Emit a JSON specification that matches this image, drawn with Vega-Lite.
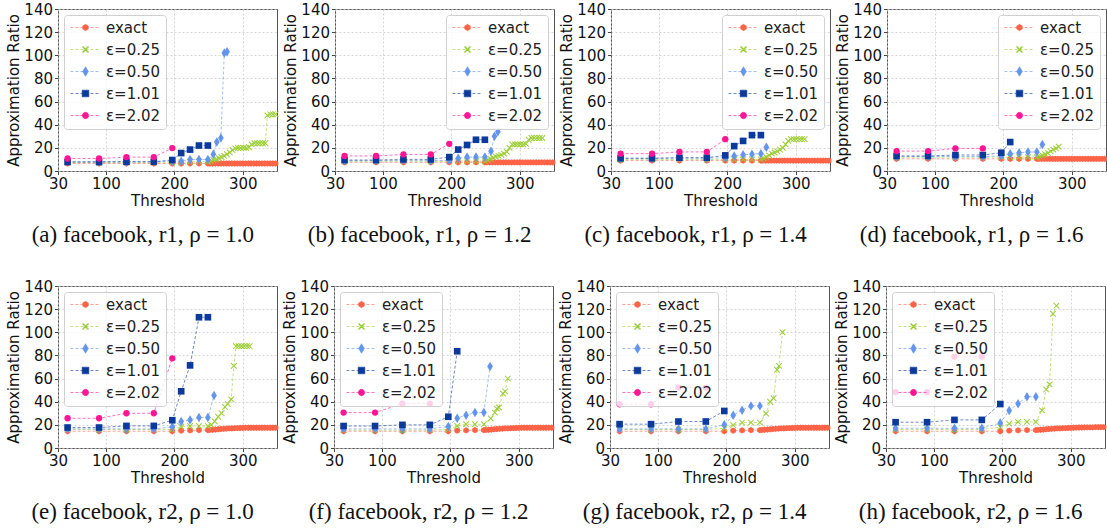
{
"$schema":"https://vega.github.io/schema/vega-lite/v6.json",
"padding":{"left":6,"top":1,"right":0,"bottom":0},
"data":{"values":[
{"p":"a","s":"exact","x":44,"y":6.5},{"p":"a","s":"exact","x":90,"y":6.5},{"p":"a","s":"exact","x":130,"y":6.5},{"p":"a","s":"exact","x":170,"y":6.5},{"p":"a","s":"exact","x":197,"y":6.5},{"p":"a","s":"exact","x":210,"y":6.5},{"p":"a","s":"exact","x":223,"y":6.5},{"p":"a","s":"exact","x":236,"y":6.5},{"p":"a","s":"exact","x":249,"y":6.5},{"p":"a","s":"exact","x":252,"y":6.5},{"p":"a","s":"exact","x":256,"y":6.5},{"p":"a","s":"exact","x":260,"y":6.5},{"p":"a","s":"exact","x":264,"y":6.5},{"p":"a","s":"exact","x":268,"y":6.5},{"p":"a","s":"exact","x":272,"y":6.5},{"p":"a","s":"exact","x":276,"y":6.5},{"p":"a","s":"exact","x":280,"y":6.5},{"p":"a","s":"exact","x":284,"y":6.5},{"p":"a","s":"exact","x":288,"y":6.5},{"p":"a","s":"exact","x":292,"y":6.5},{"p":"a","s":"exact","x":296,"y":6.5},{"p":"a","s":"exact","x":300,"y":6.5},{"p":"a","s":"exact","x":304,"y":6.5},{"p":"a","s":"exact","x":308,"y":6.5},{"p":"a","s":"exact","x":312,"y":6.5},{"p":"a","s":"exact","x":316,"y":6.5},{"p":"a","s":"exact","x":320,"y":6.5},{"p":"a","s":"exact","x":324,"y":6.5},{"p":"a","s":"exact","x":328,"y":6.5},{"p":"a","s":"exact","x":332,"y":6.5},{"p":"a","s":"exact","x":336,"y":6.5},{"p":"a","s":"exact","x":340,"y":6.5},{"p":"a","s":"exact","x":344,"y":6.5},{"p":"a","s":"exact","x":348,"y":6.5},
{"p":"a","s":"ε=0.25","x":44,"y":7.5},{"p":"a","s":"ε=0.25","x":90,"y":7.5},{"p":"a","s":"ε=0.25","x":130,"y":7.5},{"p":"a","s":"ε=0.25","x":170,"y":7.5},{"p":"a","s":"ε=0.25","x":197,"y":7.5},{"p":"a","s":"ε=0.25","x":210,"y":7.5},{"p":"a","s":"ε=0.25","x":223,"y":8},{"p":"a","s":"ε=0.25","x":236,"y":8},{"p":"a","s":"ε=0.25","x":249,"y":8},{"p":"a","s":"ε=0.25","x":253,"y":8.5},{"p":"a","s":"ε=0.25","x":257,"y":9.5},{"p":"a","s":"ε=0.25","x":261,"y":10},{"p":"a","s":"ε=0.25","x":265,"y":11},{"p":"a","s":"ε=0.25","x":269,"y":12},{"p":"a","s":"ε=0.25","x":273,"y":13},{"p":"a","s":"ε=0.25","x":277,"y":14.5},{"p":"a","s":"ε=0.25","x":281,"y":16},{"p":"a","s":"ε=0.25","x":285,"y":18},{"p":"a","s":"ε=0.25","x":289,"y":19.5},{"p":"a","s":"ε=0.25","x":293,"y":20},{"p":"a","s":"ε=0.25","x":297,"y":20},{"p":"a","s":"ε=0.25","x":301,"y":20},{"p":"a","s":"ε=0.25","x":305,"y":20},{"p":"a","s":"ε=0.25","x":309,"y":20.5},{"p":"a","s":"ε=0.25","x":313,"y":23},{"p":"a","s":"ε=0.25","x":317,"y":24},{"p":"a","s":"ε=0.25","x":321,"y":24},{"p":"a","s":"ε=0.25","x":325,"y":24},{"p":"a","s":"ε=0.25","x":329,"y":24},{"p":"a","s":"ε=0.25","x":333,"y":24},{"p":"a","s":"ε=0.25","x":336,"y":48},{"p":"a","s":"ε=0.25","x":340,"y":49},{"p":"a","s":"ε=0.25","x":344,"y":49},{"p":"a","s":"ε=0.25","x":348,"y":49},
{"p":"a","s":"ε=0.50","x":44,"y":8},{"p":"a","s":"ε=0.50","x":90,"y":8},{"p":"a","s":"ε=0.50","x":130,"y":8},{"p":"a","s":"ε=0.50","x":170,"y":8},{"p":"a","s":"ε=0.50","x":197,"y":8.5},{"p":"a","s":"ε=0.50","x":210,"y":8.5},{"p":"a","s":"ε=0.50","x":223,"y":10},{"p":"a","s":"ε=0.50","x":236,"y":10},{"p":"a","s":"ε=0.50","x":249,"y":10},{"p":"a","s":"ε=0.50","x":257,"y":14.5},{"p":"a","s":"ε=0.50","x":262,"y":25},{"p":"a","s":"ε=0.50","x":268,"y":28.5},{"p":"a","s":"ε=0.50","x":273,"y":102},{"p":"a","s":"ε=0.50","x":277,"y":103},
{"p":"a","s":"ε=1.01","x":44,"y":7.8},{"p":"a","s":"ε=1.01","x":90,"y":7.8},{"p":"a","s":"ε=1.01","x":130,"y":8},{"p":"a","s":"ε=1.01","x":170,"y":8},{"p":"a","s":"ε=1.01","x":197,"y":9.5},{"p":"a","s":"ε=1.01","x":210,"y":15.5},{"p":"a","s":"ε=1.01","x":223,"y":18.5},{"p":"a","s":"ε=1.01","x":236,"y":22},{"p":"a","s":"ε=1.01","x":249,"y":22},
{"p":"a","s":"ε=2.02","x":44,"y":10.8},{"p":"a","s":"ε=2.02","x":90,"y":10.8},{"p":"a","s":"ε=2.02","x":130,"y":12},{"p":"a","s":"ε=2.02","x":170,"y":12},{"p":"a","s":"ε=2.02","x":197,"y":19.8},

{"p":"b","s":"exact","x":44,"y":7.5},{"p":"b","s":"exact","x":90,"y":7.5},{"p":"b","s":"exact","x":130,"y":7.5},{"p":"b","s":"exact","x":170,"y":7.5},{"p":"b","s":"exact","x":197,"y":7.5},{"p":"b","s":"exact","x":210,"y":7.5},{"p":"b","s":"exact","x":223,"y":7.5},{"p":"b","s":"exact","x":236,"y":7.5},{"p":"b","s":"exact","x":249,"y":7.5},{"p":"b","s":"exact","x":252,"y":7.5},{"p":"b","s":"exact","x":256,"y":7.5},{"p":"b","s":"exact","x":260,"y":7.5},{"p":"b","s":"exact","x":264,"y":7.5},{"p":"b","s":"exact","x":268,"y":7.5},{"p":"b","s":"exact","x":272,"y":7.5},{"p":"b","s":"exact","x":276,"y":7.5},{"p":"b","s":"exact","x":280,"y":7.5},{"p":"b","s":"exact","x":284,"y":7.5},{"p":"b","s":"exact","x":288,"y":7.5},{"p":"b","s":"exact","x":292,"y":7.5},{"p":"b","s":"exact","x":296,"y":7.5},{"p":"b","s":"exact","x":300,"y":7.5},{"p":"b","s":"exact","x":304,"y":7.5},{"p":"b","s":"exact","x":308,"y":7.5},{"p":"b","s":"exact","x":312,"y":7.5},{"p":"b","s":"exact","x":316,"y":7.5},{"p":"b","s":"exact","x":320,"y":7.5},{"p":"b","s":"exact","x":324,"y":7.5},{"p":"b","s":"exact","x":328,"y":7.5},{"p":"b","s":"exact","x":332,"y":7.5},{"p":"b","s":"exact","x":336,"y":7.5},{"p":"b","s":"exact","x":340,"y":7.5},{"p":"b","s":"exact","x":344,"y":7.5},{"p":"b","s":"exact","x":348,"y":7.5},
{"p":"b","s":"ε=0.25","x":44,"y":8.5},{"p":"b","s":"ε=0.25","x":90,"y":8.5},{"p":"b","s":"ε=0.25","x":130,"y":8.5},{"p":"b","s":"ε=0.25","x":170,"y":8.5},{"p":"b","s":"ε=0.25","x":197,"y":8.5},{"p":"b","s":"ε=0.25","x":210,"y":8.5},{"p":"b","s":"ε=0.25","x":223,"y":8.5},{"p":"b","s":"ε=0.25","x":236,"y":8.5},{"p":"b","s":"ε=0.25","x":249,"y":8.5},{"p":"b","s":"ε=0.25","x":253,"y":9.5},{"p":"b","s":"ε=0.25","x":257,"y":10.5},{"p":"b","s":"ε=0.25","x":261,"y":11.5},{"p":"b","s":"ε=0.25","x":265,"y":12.5},{"p":"b","s":"ε=0.25","x":269,"y":13},{"p":"b","s":"ε=0.25","x":273,"y":14},{"p":"b","s":"ε=0.25","x":277,"y":15},{"p":"b","s":"ε=0.25","x":281,"y":16.5},{"p":"b","s":"ε=0.25","x":285,"y":20},{"p":"b","s":"ε=0.25","x":289,"y":23},{"p":"b","s":"ε=0.25","x":293,"y":23},{"p":"b","s":"ε=0.25","x":297,"y":23},{"p":"b","s":"ε=0.25","x":301,"y":23},{"p":"b","s":"ε=0.25","x":305,"y":23},{"p":"b","s":"ε=0.25","x":309,"y":23.5},{"p":"b","s":"ε=0.25","x":313,"y":27},{"p":"b","s":"ε=0.25","x":317,"y":28.5},{"p":"b","s":"ε=0.25","x":321,"y":28.5},{"p":"b","s":"ε=0.25","x":325,"y":28.5},{"p":"b","s":"ε=0.25","x":329,"y":28.5},{"p":"b","s":"ε=0.25","x":333,"y":28.5},
{"p":"b","s":"ε=0.50","x":44,"y":9},{"p":"b","s":"ε=0.50","x":90,"y":9},{"p":"b","s":"ε=0.50","x":130,"y":9},{"p":"b","s":"ε=0.50","x":170,"y":9},{"p":"b","s":"ε=0.50","x":197,"y":9},{"p":"b","s":"ε=0.50","x":210,"y":11},{"p":"b","s":"ε=0.50","x":223,"y":12},{"p":"b","s":"ε=0.50","x":236,"y":12},{"p":"b","s":"ε=0.50","x":249,"y":12},{"p":"b","s":"ε=0.50","x":258,"y":17},{"p":"b","s":"ε=0.50","x":263,"y":30},{"p":"b","s":"ε=0.50","x":268,"y":34},
{"p":"b","s":"ε=1.01","x":44,"y":9.5},{"p":"b","s":"ε=1.01","x":90,"y":9.5},{"p":"b","s":"ε=1.01","x":130,"y":10},{"p":"b","s":"ε=1.01","x":170,"y":10},{"p":"b","s":"ε=1.01","x":197,"y":12},{"p":"b","s":"ε=1.01","x":210,"y":18.5},{"p":"b","s":"ε=1.01","x":223,"y":22.5},{"p":"b","s":"ε=1.01","x":236,"y":27},{"p":"b","s":"ε=1.01","x":249,"y":27},
{"p":"b","s":"ε=2.02","x":44,"y":13},{"p":"b","s":"ε=2.02","x":90,"y":13},{"p":"b","s":"ε=2.02","x":130,"y":14.3},{"p":"b","s":"ε=2.02","x":170,"y":14.3},{"p":"b","s":"ε=2.02","x":197,"y":23.5},

{"p":"c","s":"exact","x":44,"y":9},{"p":"c","s":"exact","x":90,"y":9},{"p":"c","s":"exact","x":130,"y":9},{"p":"c","s":"exact","x":170,"y":9},{"p":"c","s":"exact","x":197,"y":9},{"p":"c","s":"exact","x":210,"y":9},{"p":"c","s":"exact","x":223,"y":9},{"p":"c","s":"exact","x":236,"y":9},{"p":"c","s":"exact","x":249,"y":9},{"p":"c","s":"exact","x":252,"y":9},{"p":"c","s":"exact","x":256,"y":9},{"p":"c","s":"exact","x":260,"y":9},{"p":"c","s":"exact","x":264,"y":9},{"p":"c","s":"exact","x":268,"y":9},{"p":"c","s":"exact","x":272,"y":9},{"p":"c","s":"exact","x":276,"y":9},{"p":"c","s":"exact","x":280,"y":9},{"p":"c","s":"exact","x":284,"y":9},{"p":"c","s":"exact","x":288,"y":9},{"p":"c","s":"exact","x":292,"y":9},{"p":"c","s":"exact","x":296,"y":9},{"p":"c","s":"exact","x":300,"y":9},{"p":"c","s":"exact","x":304,"y":9},{"p":"c","s":"exact","x":308,"y":9},{"p":"c","s":"exact","x":312,"y":9},{"p":"c","s":"exact","x":316,"y":9},{"p":"c","s":"exact","x":320,"y":9},{"p":"c","s":"exact","x":324,"y":9},{"p":"c","s":"exact","x":328,"y":9},{"p":"c","s":"exact","x":332,"y":9},{"p":"c","s":"exact","x":336,"y":9},{"p":"c","s":"exact","x":340,"y":9},{"p":"c","s":"exact","x":344,"y":9},{"p":"c","s":"exact","x":348,"y":9},
{"p":"c","s":"ε=0.25","x":44,"y":10},{"p":"c","s":"ε=0.25","x":90,"y":10},{"p":"c","s":"ε=0.25","x":130,"y":10},{"p":"c","s":"ε=0.25","x":170,"y":10},{"p":"c","s":"ε=0.25","x":197,"y":10},{"p":"c","s":"ε=0.25","x":210,"y":10},{"p":"c","s":"ε=0.25","x":223,"y":10},{"p":"c","s":"ε=0.25","x":236,"y":10},{"p":"c","s":"ε=0.25","x":249,"y":10},{"p":"c","s":"ε=0.25","x":253,"y":11},{"p":"c","s":"ε=0.25","x":257,"y":12},{"p":"c","s":"ε=0.25","x":261,"y":13.5},{"p":"c","s":"ε=0.25","x":265,"y":15},{"p":"c","s":"ε=0.25","x":269,"y":16},{"p":"c","s":"ε=0.25","x":273,"y":17},{"p":"c","s":"ε=0.25","x":277,"y":18.5},{"p":"c","s":"ε=0.25","x":281,"y":20},{"p":"c","s":"ε=0.25","x":285,"y":23},{"p":"c","s":"ε=0.25","x":289,"y":26},{"p":"c","s":"ε=0.25","x":293,"y":27.5},{"p":"c","s":"ε=0.25","x":297,"y":27.5},{"p":"c","s":"ε=0.25","x":301,"y":27.5},{"p":"c","s":"ε=0.25","x":305,"y":27.5},{"p":"c","s":"ε=0.25","x":309,"y":27.5},{"p":"c","s":"ε=0.25","x":313,"y":27.5},
{"p":"c","s":"ε=0.50","x":44,"y":11},{"p":"c","s":"ε=0.50","x":90,"y":11},{"p":"c","s":"ε=0.50","x":130,"y":11},{"p":"c","s":"ε=0.50","x":170,"y":11},{"p":"c","s":"ε=0.50","x":197,"y":11.5},{"p":"c","s":"ε=0.50","x":210,"y":13},{"p":"c","s":"ε=0.50","x":223,"y":14},{"p":"c","s":"ε=0.50","x":236,"y":14.5},{"p":"c","s":"ε=0.50","x":249,"y":15},{"p":"c","s":"ε=0.50","x":257,"y":20.5},
{"p":"c","s":"ε=1.01","x":44,"y":11},{"p":"c","s":"ε=1.01","x":90,"y":11},{"p":"c","s":"ε=1.01","x":130,"y":11.5},{"p":"c","s":"ε=1.01","x":170,"y":11.5},{"p":"c","s":"ε=1.01","x":197,"y":13.5},{"p":"c","s":"ε=1.01","x":210,"y":21.5},{"p":"c","s":"ε=1.01","x":223,"y":26},{"p":"c","s":"ε=1.01","x":236,"y":31},{"p":"c","s":"ε=1.01","x":249,"y":31},
{"p":"c","s":"ε=2.02","x":44,"y":15},{"p":"c","s":"ε=2.02","x":90,"y":15},{"p":"c","s":"ε=2.02","x":130,"y":16.5},{"p":"c","s":"ε=2.02","x":170,"y":16.5},{"p":"c","s":"ε=2.02","x":197,"y":27.5},

{"p":"d","s":"exact","x":44,"y":10.5},{"p":"d","s":"exact","x":90,"y":10.5},{"p":"d","s":"exact","x":130,"y":10.5},{"p":"d","s":"exact","x":170,"y":10.5},{"p":"d","s":"exact","x":197,"y":10.5},{"p":"d","s":"exact","x":210,"y":10.5},{"p":"d","s":"exact","x":223,"y":10.5},{"p":"d","s":"exact","x":236,"y":10.5},{"p":"d","s":"exact","x":249,"y":10.5},{"p":"d","s":"exact","x":252,"y":10.5},{"p":"d","s":"exact","x":256,"y":10.5},{"p":"d","s":"exact","x":260,"y":10.5},{"p":"d","s":"exact","x":264,"y":10.5},{"p":"d","s":"exact","x":268,"y":10.5},{"p":"d","s":"exact","x":272,"y":10.5},{"p":"d","s":"exact","x":276,"y":10.5},{"p":"d","s":"exact","x":280,"y":10.5},{"p":"d","s":"exact","x":284,"y":10.5},{"p":"d","s":"exact","x":288,"y":10.5},{"p":"d","s":"exact","x":292,"y":10.5},{"p":"d","s":"exact","x":296,"y":10.5},{"p":"d","s":"exact","x":300,"y":10.5},{"p":"d","s":"exact","x":304,"y":10.5},{"p":"d","s":"exact","x":308,"y":10.5},{"p":"d","s":"exact","x":312,"y":10.5},{"p":"d","s":"exact","x":316,"y":10.5},{"p":"d","s":"exact","x":320,"y":10.5},{"p":"d","s":"exact","x":324,"y":10.5},{"p":"d","s":"exact","x":328,"y":10.5},{"p":"d","s":"exact","x":332,"y":10.5},{"p":"d","s":"exact","x":336,"y":10.5},{"p":"d","s":"exact","x":340,"y":10.5},{"p":"d","s":"exact","x":344,"y":10.5},{"p":"d","s":"exact","x":348,"y":10.5},
{"p":"d","s":"ε=0.25","x":44,"y":12},{"p":"d","s":"ε=0.25","x":90,"y":12},{"p":"d","s":"ε=0.25","x":130,"y":12},{"p":"d","s":"ε=0.25","x":170,"y":12},{"p":"d","s":"ε=0.25","x":197,"y":12},{"p":"d","s":"ε=0.25","x":210,"y":12},{"p":"d","s":"ε=0.25","x":223,"y":12},{"p":"d","s":"ε=0.25","x":236,"y":12},{"p":"d","s":"ε=0.25","x":249,"y":12},{"p":"d","s":"ε=0.25","x":253,"y":12.5},{"p":"d","s":"ε=0.25","x":257,"y":13.5},{"p":"d","s":"ε=0.25","x":261,"y":14.5},{"p":"d","s":"ε=0.25","x":265,"y":15.5},{"p":"d","s":"ε=0.25","x":269,"y":17},{"p":"d","s":"ε=0.25","x":273,"y":18.5},{"p":"d","s":"ε=0.25","x":277,"y":19.5},{"p":"d","s":"ε=0.25","x":281,"y":21},
{"p":"d","s":"ε=0.50","x":44,"y":12.5},{"p":"d","s":"ε=0.50","x":90,"y":12.5},{"p":"d","s":"ε=0.50","x":130,"y":12.5},{"p":"d","s":"ε=0.50","x":170,"y":12.5},{"p":"d","s":"ε=0.50","x":197,"y":13},{"p":"d","s":"ε=0.50","x":210,"y":15},{"p":"d","s":"ε=0.50","x":223,"y":15.8},{"p":"d","s":"ε=0.50","x":236,"y":16.4},{"p":"d","s":"ε=0.50","x":249,"y":16.4},{"p":"d","s":"ε=0.50","x":257,"y":23},
{"p":"d","s":"ε=1.01","x":44,"y":13},{"p":"d","s":"ε=1.01","x":90,"y":13},{"p":"d","s":"ε=1.01","x":130,"y":13.8},{"p":"d","s":"ε=1.01","x":170,"y":13.8},{"p":"d","s":"ε=1.01","x":197,"y":15.8},{"p":"d","s":"ε=1.01","x":210,"y":25},
{"p":"d","s":"ε=2.02","x":44,"y":17.2},{"p":"d","s":"ε=2.02","x":90,"y":17.2},{"p":"d","s":"ε=2.02","x":130,"y":19.5},{"p":"d","s":"ε=2.02","x":170,"y":19.5},

{"p":"e","s":"exact","x":44,"y":14.5},{"p":"e","s":"exact","x":90,"y":14.5},{"p":"e","s":"exact","x":130,"y":14.5},{"p":"e","s":"exact","x":170,"y":14.5},{"p":"e","s":"exact","x":197,"y":14.5},{"p":"e","s":"exact","x":210,"y":15},{"p":"e","s":"exact","x":223,"y":15.2},{"p":"e","s":"exact","x":236,"y":15.4},{"p":"e","s":"exact","x":249,"y":15.5},{"p":"e","s":"exact","x":252,"y":15.6},{"p":"e","s":"exact","x":256,"y":15.8},{"p":"e","s":"exact","x":260,"y":16},{"p":"e","s":"exact","x":264,"y":16.2},{"p":"e","s":"exact","x":268,"y":16.4},{"p":"e","s":"exact","x":272,"y":16.6},{"p":"e","s":"exact","x":276,"y":16.8},{"p":"e","s":"exact","x":280,"y":16.9},{"p":"e","s":"exact","x":284,"y":17},{"p":"e","s":"exact","x":288,"y":17.1},{"p":"e","s":"exact","x":292,"y":17.2},{"p":"e","s":"exact","x":296,"y":17.3},{"p":"e","s":"exact","x":300,"y":17.4},{"p":"e","s":"exact","x":304,"y":17.5},{"p":"e","s":"exact","x":308,"y":17.5},{"p":"e","s":"exact","x":312,"y":17.5},{"p":"e","s":"exact","x":316,"y":17.5},{"p":"e","s":"exact","x":320,"y":17.5},{"p":"e","s":"exact","x":324,"y":17.5},{"p":"e","s":"exact","x":328,"y":17.5},{"p":"e","s":"exact","x":332,"y":17.5},{"p":"e","s":"exact","x":336,"y":17.5},{"p":"e","s":"exact","x":340,"y":17.5},{"p":"e","s":"exact","x":344,"y":17.5},{"p":"e","s":"exact","x":348,"y":17.5},
{"p":"e","s":"ε=0.25","x":44,"y":16},{"p":"e","s":"ε=0.25","x":90,"y":16},{"p":"e","s":"ε=0.25","x":130,"y":16},{"p":"e","s":"ε=0.25","x":170,"y":16},{"p":"e","s":"ε=0.25","x":197,"y":16},{"p":"e","s":"ε=0.25","x":210,"y":18.5},{"p":"e","s":"ε=0.25","x":223,"y":19},{"p":"e","s":"ε=0.25","x":236,"y":19},{"p":"e","s":"ε=0.25","x":249,"y":19},{"p":"e","s":"ε=0.25","x":254,"y":20},{"p":"e","s":"ε=0.25","x":259,"y":23},{"p":"e","s":"ε=0.25","x":264,"y":27},{"p":"e","s":"ε=0.25","x":269,"y":30},{"p":"e","s":"ε=0.25","x":274,"y":35.5},{"p":"e","s":"ε=0.25","x":278,"y":38},{"p":"e","s":"ε=0.25","x":283,"y":42},{"p":"e","s":"ε=0.25","x":287,"y":71},{"p":"e","s":"ε=0.25","x":290,"y":88},{"p":"e","s":"ε=0.25","x":294,"y":88},{"p":"e","s":"ε=0.25","x":298,"y":88},{"p":"e","s":"ε=0.25","x":302,"y":88},{"p":"e","s":"ε=0.25","x":306,"y":88},{"p":"e","s":"ε=0.25","x":310,"y":88},
{"p":"e","s":"ε=0.50","x":44,"y":16.5},{"p":"e","s":"ε=0.50","x":90,"y":16.5},{"p":"e","s":"ε=0.50","x":130,"y":16.5},{"p":"e","s":"ε=0.50","x":170,"y":16.5},{"p":"e","s":"ε=0.50","x":197,"y":18.3},{"p":"e","s":"ε=0.50","x":210,"y":22.9},{"p":"e","s":"ε=0.50","x":223,"y":24.3},{"p":"e","s":"ε=0.50","x":236,"y":26.3},{"p":"e","s":"ε=0.50","x":249,"y":26.3},{"p":"e","s":"ε=0.50","x":258,"y":45.4},
{"p":"e","s":"ε=1.01","x":44,"y":17.7},{"p":"e","s":"ε=1.01","x":90,"y":17.7},{"p":"e","s":"ε=1.01","x":130,"y":19.1},{"p":"e","s":"ε=1.01","x":170,"y":19.1},{"p":"e","s":"ε=1.01","x":197,"y":24},{"p":"e","s":"ε=1.01","x":210,"y":49},{"p":"e","s":"ε=1.01","x":223,"y":71.4},{"p":"e","s":"ε=1.01","x":236,"y":113},{"p":"e","s":"ε=1.01","x":249,"y":113},
{"p":"e","s":"ε=2.02","x":44,"y":25.7},{"p":"e","s":"ε=2.02","x":90,"y":25.7},{"p":"e","s":"ε=2.02","x":130,"y":30},{"p":"e","s":"ε=2.02","x":170,"y":30},{"p":"e","s":"ε=2.02","x":197,"y":77.5},

{"p":"f","s":"exact","x":44,"y":14.5},{"p":"f","s":"exact","x":90,"y":14.5},{"p":"f","s":"exact","x":130,"y":14.5},{"p":"f","s":"exact","x":170,"y":14.5},{"p":"f","s":"exact","x":197,"y":14.5},{"p":"f","s":"exact","x":210,"y":15},{"p":"f","s":"exact","x":223,"y":15.2},{"p":"f","s":"exact","x":236,"y":15.4},{"p":"f","s":"exact","x":249,"y":15.5},{"p":"f","s":"exact","x":252,"y":15.6},{"p":"f","s":"exact","x":256,"y":15.8},{"p":"f","s":"exact","x":260,"y":16},{"p":"f","s":"exact","x":264,"y":16.2},{"p":"f","s":"exact","x":268,"y":16.4},{"p":"f","s":"exact","x":272,"y":16.6},{"p":"f","s":"exact","x":276,"y":16.8},{"p":"f","s":"exact","x":280,"y":16.9},{"p":"f","s":"exact","x":284,"y":17},{"p":"f","s":"exact","x":288,"y":17.1},{"p":"f","s":"exact","x":292,"y":17.2},{"p":"f","s":"exact","x":296,"y":17.3},{"p":"f","s":"exact","x":300,"y":17.4},{"p":"f","s":"exact","x":304,"y":17.5},{"p":"f","s":"exact","x":308,"y":17.5},{"p":"f","s":"exact","x":312,"y":17.5},{"p":"f","s":"exact","x":316,"y":17.5},{"p":"f","s":"exact","x":320,"y":17.5},{"p":"f","s":"exact","x":324,"y":17.5},{"p":"f","s":"exact","x":328,"y":17.5},{"p":"f","s":"exact","x":332,"y":17.5},{"p":"f","s":"exact","x":336,"y":17.5},{"p":"f","s":"exact","x":340,"y":17.5},{"p":"f","s":"exact","x":344,"y":17.5},{"p":"f","s":"exact","x":348,"y":17.5},
{"p":"f","s":"ε=0.25","x":44,"y":15.5},{"p":"f","s":"ε=0.25","x":90,"y":15.5},{"p":"f","s":"ε=0.25","x":130,"y":15.5},{"p":"f","s":"ε=0.25","x":170,"y":15.5},{"p":"f","s":"ε=0.25","x":197,"y":16},{"p":"f","s":"ε=0.25","x":210,"y":19},{"p":"f","s":"ε=0.25","x":223,"y":20.5},{"p":"f","s":"ε=0.25","x":236,"y":20.5},{"p":"f","s":"ε=0.25","x":249,"y":20.5},{"p":"f","s":"ε=0.25","x":259,"y":25.5},{"p":"f","s":"ε=0.25","x":265,"y":30.6},{"p":"f","s":"ε=0.25","x":268,"y":34},{"p":"f","s":"ε=0.25","x":271,"y":35},{"p":"f","s":"ε=0.25","x":277,"y":47},{"p":"f","s":"ε=0.25","x":280,"y":49},{"p":"f","s":"ε=0.25","x":284,"y":60},
{"p":"f","s":"ε=0.50","x":44,"y":16.5},{"p":"f","s":"ε=0.50","x":90,"y":16.5},{"p":"f","s":"ε=0.50","x":130,"y":16.5},{"p":"f","s":"ε=0.50","x":170,"y":16.5},{"p":"f","s":"ε=0.50","x":197,"y":18.6},{"p":"f","s":"ε=0.50","x":210,"y":25.8},{"p":"f","s":"ε=0.50","x":223,"y":28.3},{"p":"f","s":"ε=0.50","x":236,"y":30.6},{"p":"f","s":"ε=0.50","x":249,"y":30.6},{"p":"f","s":"ε=0.50","x":258,"y":70.4},
{"p":"f","s":"ε=1.01","x":44,"y":19},{"p":"f","s":"ε=1.01","x":90,"y":19},{"p":"f","s":"ε=1.01","x":130,"y":20},{"p":"f","s":"ε=1.01","x":170,"y":20},{"p":"f","s":"ε=1.01","x":197,"y":27},{"p":"f","s":"ε=1.01","x":210,"y":83.6},
{"p":"f","s":"ε=2.02","x":44,"y":30.6},{"p":"f","s":"ε=2.02","x":90,"y":30.6},{"p":"f","s":"ε=2.02","x":130,"y":38.4},{"p":"f","s":"ε=2.02","x":170,"y":38.4},

{"p":"g","s":"exact","x":44,"y":14.5},{"p":"g","s":"exact","x":90,"y":14.5},{"p":"g","s":"exact","x":130,"y":14.5},{"p":"g","s":"exact","x":170,"y":14.5},{"p":"g","s":"exact","x":197,"y":14.5},{"p":"g","s":"exact","x":210,"y":15},{"p":"g","s":"exact","x":223,"y":15.2},{"p":"g","s":"exact","x":236,"y":15.4},{"p":"g","s":"exact","x":249,"y":15.5},{"p":"g","s":"exact","x":252,"y":15.6},{"p":"g","s":"exact","x":256,"y":15.8},{"p":"g","s":"exact","x":260,"y":16},{"p":"g","s":"exact","x":264,"y":16.2},{"p":"g","s":"exact","x":268,"y":16.4},{"p":"g","s":"exact","x":272,"y":16.6},{"p":"g","s":"exact","x":276,"y":16.8},{"p":"g","s":"exact","x":280,"y":16.9},{"p":"g","s":"exact","x":284,"y":17},{"p":"g","s":"exact","x":288,"y":17.1},{"p":"g","s":"exact","x":292,"y":17.2},{"p":"g","s":"exact","x":296,"y":17.3},{"p":"g","s":"exact","x":300,"y":17.4},{"p":"g","s":"exact","x":304,"y":17.5},{"p":"g","s":"exact","x":308,"y":17.5},{"p":"g","s":"exact","x":312,"y":17.5},{"p":"g","s":"exact","x":316,"y":17.5},{"p":"g","s":"exact","x":320,"y":17.5},{"p":"g","s":"exact","x":324,"y":17.5},{"p":"g","s":"exact","x":328,"y":17.5},{"p":"g","s":"exact","x":332,"y":17.5},{"p":"g","s":"exact","x":336,"y":17.5},{"p":"g","s":"exact","x":340,"y":17.5},{"p":"g","s":"exact","x":344,"y":17.5},{"p":"g","s":"exact","x":348,"y":17.5},
{"p":"g","s":"ε=0.25","x":44,"y":16},{"p":"g","s":"ε=0.25","x":90,"y":16},{"p":"g","s":"ε=0.25","x":130,"y":16},{"p":"g","s":"ε=0.25","x":170,"y":16},{"p":"g","s":"ε=0.25","x":197,"y":17},{"p":"g","s":"ε=0.25","x":210,"y":19.7},{"p":"g","s":"ε=0.25","x":223,"y":22},{"p":"g","s":"ε=0.25","x":236,"y":22},{"p":"g","s":"ε=0.25","x":249,"y":22},{"p":"g","s":"ε=0.25","x":258,"y":29.8},{"p":"g","s":"ε=0.25","x":264,"y":40},{"p":"g","s":"ε=0.25","x":269,"y":43},{"p":"g","s":"ε=0.25","x":274,"y":67.6},{"p":"g","s":"ε=0.25","x":277,"y":71},{"p":"g","s":"ε=0.25","x":282,"y":100},
{"p":"g","s":"ε=0.50","x":44,"y":16.5},{"p":"g","s":"ε=0.50","x":90,"y":16.5},{"p":"g","s":"ε=0.50","x":130,"y":16.5},{"p":"g","s":"ε=0.50","x":170,"y":16.5},{"p":"g","s":"ε=0.50","x":197,"y":20},{"p":"g","s":"ε=0.50","x":210,"y":28.3},{"p":"g","s":"ε=0.50","x":223,"y":32.7},{"p":"g","s":"ε=0.50","x":236,"y":36.4},{"p":"g","s":"ε=0.50","x":249,"y":36.4},
{"p":"g","s":"ε=1.01","x":44,"y":20.6},{"p":"g","s":"ε=1.01","x":90,"y":20.6},{"p":"g","s":"ε=1.01","x":130,"y":22.9},{"p":"g","s":"ε=1.01","x":170,"y":22.9},{"p":"g","s":"ε=1.01","x":197,"y":32},
{"p":"g","s":"ε=2.02","x":44,"y":37.8},{"p":"g","s":"ε=2.02","x":90,"y":37.8},{"p":"g","s":"ε=2.02","x":130,"y":52.2},{"p":"g","s":"ε=2.02","x":170,"y":52.2},

{"p":"h","s":"exact","x":44,"y":14.5},{"p":"h","s":"exact","x":90,"y":14.5},{"p":"h","s":"exact","x":130,"y":14.5},{"p":"h","s":"exact","x":170,"y":14.5},{"p":"h","s":"exact","x":197,"y":14.5},{"p":"h","s":"exact","x":210,"y":15},{"p":"h","s":"exact","x":223,"y":15.2},{"p":"h","s":"exact","x":236,"y":15.4},{"p":"h","s":"exact","x":249,"y":15.5},{"p":"h","s":"exact","x":252,"y":15.6},{"p":"h","s":"exact","x":256,"y":15.8},{"p":"h","s":"exact","x":260,"y":16},{"p":"h","s":"exact","x":264,"y":16.2},{"p":"h","s":"exact","x":268,"y":16.4},{"p":"h","s":"exact","x":272,"y":16.6},{"p":"h","s":"exact","x":276,"y":16.8},{"p":"h","s":"exact","x":280,"y":16.9},{"p":"h","s":"exact","x":284,"y":17},{"p":"h","s":"exact","x":288,"y":17.1},{"p":"h","s":"exact","x":292,"y":17.2},{"p":"h","s":"exact","x":296,"y":17.3},{"p":"h","s":"exact","x":300,"y":17.4},{"p":"h","s":"exact","x":304,"y":17.5},{"p":"h","s":"exact","x":308,"y":17.6},{"p":"h","s":"exact","x":312,"y":17.7},{"p":"h","s":"exact","x":316,"y":17.7},{"p":"h","s":"exact","x":320,"y":17.8},{"p":"h","s":"exact","x":324,"y":17.8},{"p":"h","s":"exact","x":328,"y":17.9},{"p":"h","s":"exact","x":332,"y":17.9},{"p":"h","s":"exact","x":336,"y":18},{"p":"h","s":"exact","x":340,"y":18},{"p":"h","s":"exact","x":344,"y":18},{"p":"h","s":"exact","x":348,"y":18},
{"p":"h","s":"ε=0.25","x":44,"y":16},{"p":"h","s":"ε=0.25","x":90,"y":16},{"p":"h","s":"ε=0.25","x":130,"y":16},{"p":"h","s":"ε=0.25","x":170,"y":16},{"p":"h","s":"ε=0.25","x":197,"y":18},{"p":"h","s":"ε=0.25","x":210,"y":21},{"p":"h","s":"ε=0.25","x":223,"y":22.6},{"p":"h","s":"ε=0.25","x":236,"y":22.6},{"p":"h","s":"ε=0.25","x":249,"y":22.6},{"p":"h","s":"ε=0.25","x":258,"y":32.5},{"p":"h","s":"ε=0.25","x":264,"y":50.6},{"p":"h","s":"ε=0.25","x":269,"y":55},{"p":"h","s":"ε=0.25","x":274,"y":116},{"p":"h","s":"ε=0.25","x":279,"y":123},
{"p":"h","s":"ε=0.50","x":44,"y":17},{"p":"h","s":"ε=0.50","x":90,"y":17},{"p":"h","s":"ε=0.50","x":130,"y":17},{"p":"h","s":"ε=0.50","x":170,"y":17},{"p":"h","s":"ε=0.50","x":197,"y":21.6},{"p":"h","s":"ε=0.50","x":210,"y":32.5},{"p":"h","s":"ε=0.50","x":223,"y":38.3},{"p":"h","s":"ε=0.50","x":236,"y":44.3},{"p":"h","s":"ε=0.50","x":249,"y":44.3},
{"p":"h","s":"ε=1.01","x":44,"y":22.3},{"p":"h","s":"ε=1.01","x":90,"y":22.3},{"p":"h","s":"ε=1.01","x":130,"y":24.3},{"p":"h","s":"ε=1.01","x":170,"y":24.3},{"p":"h","s":"ε=1.01","x":197,"y":38},
{"p":"h","s":"ε=2.02","x":44,"y":48.3},{"p":"h","s":"ε=2.02","x":90,"y":48.3},{"p":"h","s":"ε=2.02","x":130,"y":79},{"p":"h","s":"ε=2.02","x":170,"y":79}
]},
"spacing":31,
"resolve":{"legend":{"color":"independent","shape":"independent"}},
"vconcat":[
{"hconcat":[
{"width":219,"height":162,"transform":[{"filter":"datum.p==='a'"}],"title":{"text":"(a) facebook, r1, ρ = 1.0"},
"encoding":{"x":{"field":"x","type":"quantitative","scale":{"domain":[30,350],"nice":false,"zero":false},"axis":{"values":[30,100,200,300],"title":"Threshold"}},"y":{"field":"y","type":"quantitative","scale":{"domain":[0,140],"nice":false},"axis":{"values":[0,20,40,60,80,100,120,140],"title":"Approximation Ratio"}}},
"layer":[{"mark":{"type":"line","strokeWidth":1,"strokeDash":[3,2],"opacity":0.6},"encoding":{"color":{"field":"s","type":"nominal"}}},
{"mark":{"type":"point","filled":true,"size":40,"opacity":1},"encoding":{"shape":{"field":"s","type":"nominal","legend":null},"color":{"field":"s","type":"nominal","legend":{"title":null,"orient":"top-left","encoding":{"symbols":{"shape":{"value":{"expr":"(datum.value==='exact'?'M0,-1L0.87,-0.5L0.87,0.5L0,1L-0.87,0.5L-0.87,-0.5Z':datum.value==='ε=0.25'?'M-1,-0.78L-0.78,-1L1,0.78L0.78,1Z M0.78,-1L1,-0.78L-0.78,1L-1,0.78Z':datum.value==='ε=0.50'?'M0,-1.5L0.9,0L0,1.5L-0.9,0Z':datum.value==='ε=1.01'?'M-1.05,-1.05H1.05V1.05H-1.05Z':'M1,0A1,1,0,1,1,-1,0A1,1,0,1,1,1,0Z')+' M-4.75,0H-3.8M-3.17,0H-2.22M-1.59,0H-0.64M-0.01,0H0.94M1.57,0H2.52M3.15,0H4.1M4.73,0H4.75'"}},"stroke":{"value":{"expr":"datum.value==='exact'?'#ff6347':datum.value==='ε=0.25'?'#9acd32':datum.value==='ε=0.50'?'#6495ed':datum.value==='ε=1.01'?'#0b3a9c':'#ff1493'"}},"strokeWidth":{"value":1},"strokeOpacity":{"value":0.6},"fillOpacity":{"value":1},"opacity":{"value":1}}}}}}}]},
{"width":219,"height":162,"transform":[{"filter":"datum.p==='b'"}],"title":{"text":"(b) facebook, r1, ρ = 1.2"},
"encoding":{"x":{"field":"x","type":"quantitative","scale":{"domain":[30,350],"nice":false,"zero":false},"axis":{"values":[30,100,200,300],"title":"Threshold"}},"y":{"field":"y","type":"quantitative","scale":{"domain":[0,140],"nice":false},"axis":{"values":[0,20,40,60,80,100,120,140],"title":"Approximation Ratio"}}},
"layer":[{"mark":{"type":"line","strokeWidth":1,"strokeDash":[3,2],"opacity":0.6},"encoding":{"color":{"field":"s","type":"nominal"}}},
{"mark":{"type":"point","filled":true,"size":40,"opacity":1},"encoding":{"shape":{"field":"s","type":"nominal","legend":null},"color":{"field":"s","type":"nominal","legend":{"title":null,"orient":"top-right","encoding":{"symbols":{"shape":{"value":{"expr":"(datum.value==='exact'?'M0,-1L0.87,-0.5L0.87,0.5L0,1L-0.87,0.5L-0.87,-0.5Z':datum.value==='ε=0.25'?'M-1,-0.78L-0.78,-1L1,0.78L0.78,1Z M0.78,-1L1,-0.78L-0.78,1L-1,0.78Z':datum.value==='ε=0.50'?'M0,-1.5L0.9,0L0,1.5L-0.9,0Z':datum.value==='ε=1.01'?'M-1.05,-1.05H1.05V1.05H-1.05Z':'M1,0A1,1,0,1,1,-1,0A1,1,0,1,1,1,0Z')+' M-4.75,0H-3.8M-3.17,0H-2.22M-1.59,0H-0.64M-0.01,0H0.94M1.57,0H2.52M3.15,0H4.1M4.73,0H4.75'"}},"stroke":{"value":{"expr":"datum.value==='exact'?'#ff6347':datum.value==='ε=0.25'?'#9acd32':datum.value==='ε=0.50'?'#6495ed':datum.value==='ε=1.01'?'#0b3a9c':'#ff1493'"}},"strokeWidth":{"value":1},"strokeOpacity":{"value":0.6},"fillOpacity":{"value":1},"opacity":{"value":1}}}}}}}]},
{"width":219,"height":162,"transform":[{"filter":"datum.p==='c'"}],"title":{"text":"(c) facebook, r1, ρ = 1.4"},
"encoding":{"x":{"field":"x","type":"quantitative","scale":{"domain":[30,350],"nice":false,"zero":false},"axis":{"values":[30,100,200,300],"title":"Threshold"}},"y":{"field":"y","type":"quantitative","scale":{"domain":[0,140],"nice":false},"axis":{"values":[0,20,40,60,80,100,120,140],"title":"Approximation Ratio"}}},
"layer":[{"mark":{"type":"line","strokeWidth":1,"strokeDash":[3,2],"opacity":0.6},"encoding":{"color":{"field":"s","type":"nominal"}}},
{"mark":{"type":"point","filled":true,"size":40,"opacity":1},"encoding":{"shape":{"field":"s","type":"nominal","legend":null},"color":{"field":"s","type":"nominal","legend":{"title":null,"orient":"top-right","encoding":{"symbols":{"shape":{"value":{"expr":"(datum.value==='exact'?'M0,-1L0.87,-0.5L0.87,0.5L0,1L-0.87,0.5L-0.87,-0.5Z':datum.value==='ε=0.25'?'M-1,-0.78L-0.78,-1L1,0.78L0.78,1Z M0.78,-1L1,-0.78L-0.78,1L-1,0.78Z':datum.value==='ε=0.50'?'M0,-1.5L0.9,0L0,1.5L-0.9,0Z':datum.value==='ε=1.01'?'M-1.05,-1.05H1.05V1.05H-1.05Z':'M1,0A1,1,0,1,1,-1,0A1,1,0,1,1,1,0Z')+' M-4.75,0H-3.8M-3.17,0H-2.22M-1.59,0H-0.64M-0.01,0H0.94M1.57,0H2.52M3.15,0H4.1M4.73,0H4.75'"}},"stroke":{"value":{"expr":"datum.value==='exact'?'#ff6347':datum.value==='ε=0.25'?'#9acd32':datum.value==='ε=0.50'?'#6495ed':datum.value==='ε=1.01'?'#0b3a9c':'#ff1493'"}},"strokeWidth":{"value":1},"strokeOpacity":{"value":0.6},"fillOpacity":{"value":1},"opacity":{"value":1}}}}}}}]},
{"width":219,"height":162,"transform":[{"filter":"datum.p==='d'"}],"title":{"text":"(d) facebook, r1, ρ = 1.6"},
"encoding":{"x":{"field":"x","type":"quantitative","scale":{"domain":[30,350],"nice":false,"zero":false},"axis":{"values":[30,100,200,300],"title":"Threshold"}},"y":{"field":"y","type":"quantitative","scale":{"domain":[0,140],"nice":false},"axis":{"values":[0,20,40,60,80,100,120,140],"title":"Approximation Ratio"}}},
"layer":[{"mark":{"type":"line","strokeWidth":1,"strokeDash":[3,2],"opacity":0.6},"encoding":{"color":{"field":"s","type":"nominal"}}},
{"mark":{"type":"point","filled":true,"size":40,"opacity":1},"encoding":{"shape":{"field":"s","type":"nominal","legend":null},"color":{"field":"s","type":"nominal","legend":{"title":null,"orient":"top-right","encoding":{"symbols":{"shape":{"value":{"expr":"(datum.value==='exact'?'M0,-1L0.87,-0.5L0.87,0.5L0,1L-0.87,0.5L-0.87,-0.5Z':datum.value==='ε=0.25'?'M-1,-0.78L-0.78,-1L1,0.78L0.78,1Z M0.78,-1L1,-0.78L-0.78,1L-1,0.78Z':datum.value==='ε=0.50'?'M0,-1.5L0.9,0L0,1.5L-0.9,0Z':datum.value==='ε=1.01'?'M-1.05,-1.05H1.05V1.05H-1.05Z':'M1,0A1,1,0,1,1,-1,0A1,1,0,1,1,1,0Z')+' M-4.75,0H-3.8M-3.17,0H-2.22M-1.59,0H-0.64M-0.01,0H0.94M1.57,0H2.52M3.15,0H4.1M4.73,0H4.75'"}},"stroke":{"value":{"expr":"datum.value==='exact'?'#ff6347':datum.value==='ε=0.25'?'#9acd32':datum.value==='ε=0.50'?'#6495ed':datum.value==='ε=1.01'?'#0b3a9c':'#ff1493'"}},"strokeWidth":{"value":1},"strokeOpacity":{"value":0.6},"fillOpacity":{"value":1},"opacity":{"value":1}}}}}}}]}
],"spacing":3,"resolve":{"legend":{"color":"independent","shape":"independent"}}},
{"hconcat":[
{"width":219,"height":162,"transform":[{"filter":"datum.p==='e'"}],"title":{"text":"(e) facebook, r2, ρ = 1.0"},
"encoding":{"x":{"field":"x","type":"quantitative","scale":{"domain":[30,350],"nice":false,"zero":false},"axis":{"values":[30,100,200,300],"title":"Threshold"}},"y":{"field":"y","type":"quantitative","scale":{"domain":[0,140],"nice":false},"axis":{"values":[0,20,40,60,80,100,120,140],"title":"Approximation Ratio"}}},
"layer":[{"mark":{"type":"line","strokeWidth":1,"strokeDash":[3,2],"opacity":0.6},"encoding":{"color":{"field":"s","type":"nominal"}}},
{"mark":{"type":"point","filled":true,"size":40,"opacity":1},"encoding":{"shape":{"field":"s","type":"nominal","legend":null},"color":{"field":"s","type":"nominal","legend":{"title":null,"orient":"top-left","encoding":{"symbols":{"shape":{"value":{"expr":"(datum.value==='exact'?'M0,-1L0.87,-0.5L0.87,0.5L0,1L-0.87,0.5L-0.87,-0.5Z':datum.value==='ε=0.25'?'M-1,-0.78L-0.78,-1L1,0.78L0.78,1Z M0.78,-1L1,-0.78L-0.78,1L-1,0.78Z':datum.value==='ε=0.50'?'M0,-1.5L0.9,0L0,1.5L-0.9,0Z':datum.value==='ε=1.01'?'M-1.05,-1.05H1.05V1.05H-1.05Z':'M1,0A1,1,0,1,1,-1,0A1,1,0,1,1,1,0Z')+' M-4.75,0H-3.8M-3.17,0H-2.22M-1.59,0H-0.64M-0.01,0H0.94M1.57,0H2.52M3.15,0H4.1M4.73,0H4.75'"}},"stroke":{"value":{"expr":"datum.value==='exact'?'#ff6347':datum.value==='ε=0.25'?'#9acd32':datum.value==='ε=0.50'?'#6495ed':datum.value==='ε=1.01'?'#0b3a9c':'#ff1493'"}},"strokeWidth":{"value":1},"strokeOpacity":{"value":0.6},"fillOpacity":{"value":1},"opacity":{"value":1}}}}}}}]},
{"width":219,"height":162,"transform":[{"filter":"datum.p==='f'"}],"title":{"text":"(f) facebook, r2, ρ = 1.2"},
"encoding":{"x":{"field":"x","type":"quantitative","scale":{"domain":[30,350],"nice":false,"zero":false},"axis":{"values":[30,100,200,300],"title":"Threshold"}},"y":{"field":"y","type":"quantitative","scale":{"domain":[0,140],"nice":false},"axis":{"values":[0,20,40,60,80,100,120,140],"title":"Approximation Ratio"}}},
"layer":[{"mark":{"type":"line","strokeWidth":1,"strokeDash":[3,2],"opacity":0.6},"encoding":{"color":{"field":"s","type":"nominal"}}},
{"mark":{"type":"point","filled":true,"size":40,"opacity":1},"encoding":{"shape":{"field":"s","type":"nominal","legend":null},"color":{"field":"s","type":"nominal","legend":{"title":null,"orient":"top-left","encoding":{"symbols":{"shape":{"value":{"expr":"(datum.value==='exact'?'M0,-1L0.87,-0.5L0.87,0.5L0,1L-0.87,0.5L-0.87,-0.5Z':datum.value==='ε=0.25'?'M-1,-0.78L-0.78,-1L1,0.78L0.78,1Z M0.78,-1L1,-0.78L-0.78,1L-1,0.78Z':datum.value==='ε=0.50'?'M0,-1.5L0.9,0L0,1.5L-0.9,0Z':datum.value==='ε=1.01'?'M-1.05,-1.05H1.05V1.05H-1.05Z':'M1,0A1,1,0,1,1,-1,0A1,1,0,1,1,1,0Z')+' M-4.75,0H-3.8M-3.17,0H-2.22M-1.59,0H-0.64M-0.01,0H0.94M1.57,0H2.52M3.15,0H4.1M4.73,0H4.75'"}},"stroke":{"value":{"expr":"datum.value==='exact'?'#ff6347':datum.value==='ε=0.25'?'#9acd32':datum.value==='ε=0.50'?'#6495ed':datum.value==='ε=1.01'?'#0b3a9c':'#ff1493'"}},"strokeWidth":{"value":1},"strokeOpacity":{"value":0.6},"fillOpacity":{"value":1},"opacity":{"value":1}}}}}}}]},
{"width":219,"height":162,"transform":[{"filter":"datum.p==='g'"}],"title":{"text":"(g) facebook, r2, ρ = 1.4"},
"encoding":{"x":{"field":"x","type":"quantitative","scale":{"domain":[30,350],"nice":false,"zero":false},"axis":{"values":[30,100,200,300],"title":"Threshold"}},"y":{"field":"y","type":"quantitative","scale":{"domain":[0,140],"nice":false},"axis":{"values":[0,20,40,60,80,100,120,140],"title":"Approximation Ratio"}}},
"layer":[{"mark":{"type":"line","strokeWidth":1,"strokeDash":[3,2],"opacity":0.6},"encoding":{"color":{"field":"s","type":"nominal"}}},
{"mark":{"type":"point","filled":true,"size":40,"opacity":1},"encoding":{"shape":{"field":"s","type":"nominal","legend":null},"color":{"field":"s","type":"nominal","legend":{"title":null,"orient":"top-left","encoding":{"symbols":{"shape":{"value":{"expr":"(datum.value==='exact'?'M0,-1L0.87,-0.5L0.87,0.5L0,1L-0.87,0.5L-0.87,-0.5Z':datum.value==='ε=0.25'?'M-1,-0.78L-0.78,-1L1,0.78L0.78,1Z M0.78,-1L1,-0.78L-0.78,1L-1,0.78Z':datum.value==='ε=0.50'?'M0,-1.5L0.9,0L0,1.5L-0.9,0Z':datum.value==='ε=1.01'?'M-1.05,-1.05H1.05V1.05H-1.05Z':'M1,0A1,1,0,1,1,-1,0A1,1,0,1,1,1,0Z')+' M-4.75,0H-3.8M-3.17,0H-2.22M-1.59,0H-0.64M-0.01,0H0.94M1.57,0H2.52M3.15,0H4.1M4.73,0H4.75'"}},"stroke":{"value":{"expr":"datum.value==='exact'?'#ff6347':datum.value==='ε=0.25'?'#9acd32':datum.value==='ε=0.50'?'#6495ed':datum.value==='ε=1.01'?'#0b3a9c':'#ff1493'"}},"strokeWidth":{"value":1},"strokeOpacity":{"value":0.6},"fillOpacity":{"value":1},"opacity":{"value":1}}}}}}}]},
{"width":219,"height":162,"transform":[{"filter":"datum.p==='h'"}],"title":{"text":"(h) facebook, r2, ρ = 1.6"},
"encoding":{"x":{"field":"x","type":"quantitative","scale":{"domain":[30,350],"nice":false,"zero":false},"axis":{"values":[30,100,200,300],"title":"Threshold"}},"y":{"field":"y","type":"quantitative","scale":{"domain":[0,140],"nice":false},"axis":{"values":[0,20,40,60,80,100,120,140],"title":"Approximation Ratio"}}},
"layer":[{"mark":{"type":"line","strokeWidth":1,"strokeDash":[3,2],"opacity":0.6},"encoding":{"color":{"field":"s","type":"nominal"}}},
{"mark":{"type":"point","filled":true,"size":40,"opacity":1},"encoding":{"shape":{"field":"s","type":"nominal","legend":null},"color":{"field":"s","type":"nominal","legend":{"title":null,"orient":"top-left","encoding":{"symbols":{"shape":{"value":{"expr":"(datum.value==='exact'?'M0,-1L0.87,-0.5L0.87,0.5L0,1L-0.87,0.5L-0.87,-0.5Z':datum.value==='ε=0.25'?'M-1,-0.78L-0.78,-1L1,0.78L0.78,1Z M0.78,-1L1,-0.78L-0.78,1L-1,0.78Z':datum.value==='ε=0.50'?'M0,-1.5L0.9,0L0,1.5L-0.9,0Z':datum.value==='ε=1.01'?'M-1.05,-1.05H1.05V1.05H-1.05Z':'M1,0A1,1,0,1,1,-1,0A1,1,0,1,1,1,0Z')+' M-4.75,0H-3.8M-3.17,0H-2.22M-1.59,0H-0.64M-0.01,0H0.94M1.57,0H2.52M3.15,0H4.1M4.73,0H4.75'"}},"stroke":{"value":{"expr":"datum.value==='exact'?'#ff6347':datum.value==='ε=0.25'?'#9acd32':datum.value==='ε=0.50'?'#6495ed':datum.value==='ε=1.01'?'#0b3a9c':'#ff1493'"}},"strokeWidth":{"value":1},"strokeOpacity":{"value":0.6},"fillOpacity":{"value":1},"opacity":{"value":1}}}}}}}]}
],"spacing":3,"resolve":{"legend":{"color":"independent","shape":"independent"}}}
],
"config":{
"font":"DejaVu Sans",
"view":{"stroke":"#555","strokeWidth":1},
"range":{"category":["#ff6347","#9acd32","#6495ed","#0b3a9c","#ff1493"],"symbol":["M0,-1L0.87,-0.5L0.87,0.5L0,1L-0.87,0.5L-0.87,-0.5Z","M-1,-0.78L-0.78,-1L1,0.78L0.78,1Z M0.78,-1L1,-0.78L-0.78,1L-1,0.78Z","M0,-1.5L0.9,0L0,1.5L-0.9,0Z","M-1.05,-1.05H1.05V1.05H-1.05Z","circle"]},
"axis":{"labelFont":"DejaVu Sans","titleFont":"DejaVu Sans","labelFontSize":15,"titleFontSize":15,"titleFontWeight":"normal","labelColor":"#111","titleColor":"#111","gridColor":"#cccccc","gridDash":[2,2],"gridWidth":0.8,"domain":false,"tickColor":"#444","tickSize":3.5,"labelPadding":2,"titlePadding":2,"labelFlush":false},
"legend":{"padding":5,"rowPadding":6,"symbolSize":40,"labelFont":"DejaVu Sans","labelFontSize":15,"labelColor":"#222","labelOffset":13,"symbolOffset":9,"fillColor":"rgba(255,255,255,0.8)","strokeColor":"#d0d0d0","cornerRadius":3,"offset":6,"labelLimit":200},
"title":{"font":"Liberation Serif","fontSize":23,"fontWeight":"normal","color":"#111","orient":"bottom","anchor":"middle","frame":"bounds","offset":15}
}
}
